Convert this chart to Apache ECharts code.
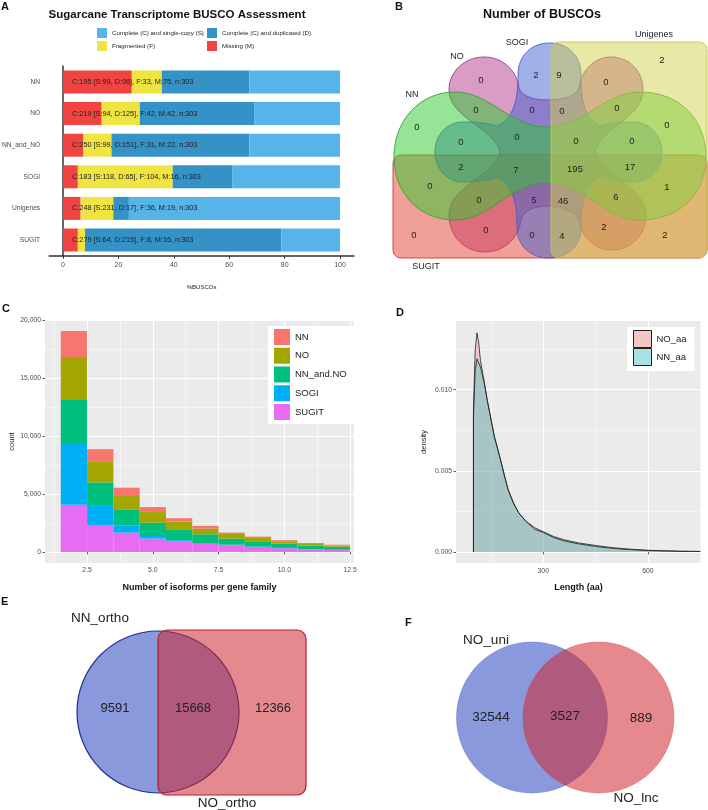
<!DOCTYPE html>
<html>
<head>
<meta charset="utf-8">
<script src="https://cdn.jsdelivr.net/npm/echarts@6.0.0/dist/echarts.min.js"></script>
<style>
  html, body { margin: 0; padding: 0; background: #fff; }
  #main { width: 708px; height: 810px; }
</style>
</head>
<body>
<div id="main"></div>
<script>
// ---------- data ----------
// A: BUSCO assessment, counts out of buscoTotal
const buscoCats = ['NN', 'NO', 'NN_and_NO', 'SOGI', 'Unigenes', 'SUGIT'];
const buscoSingle = [99, 94, 99, 118, 231, 64];
const buscoDup = [96, 125, 151, 65, 17, 215];
const buscoFrag = [33, 42, 31, 104, 36, 8];
const buscoMiss = [75, 42, 22, 16, 19, 16];
const buscoTotal = 303;
const buscoTicks = [0, 20, 40, 60, 80, 100];

// B: five-set Venn, one count per region
const vennBSets = ['NN', 'NO', 'SOGI', 'Unigenes', 'SUGIT'];
const vennBCounts = [2, 9, 2, 0, 0, 0, 0, 0, 0, 0, 0, 0, 0, 0, 0,
  2, 7, 195, 17, 0, 1, 0, 5, 46, 6, 0, 0, 0, 4, 2, 2];

// C: isoforms per gene family (stacked counts, bottom to top)
const isoBins = [2, 3, 4, 5, 6, 7, 8, 9, 10, 11, 12];
const isoSUGIT = [4080, 2330, 1670, 1155, 900, 690, 575, 430, 320, 230, 170];
const isoSOGI = [5320, 1720, 630, 225, 110, 60, 55, 35, 30, 25, 20];
const isoNNNO = [3730, 1960, 1380, 1150, 950, 775, 520, 460, 370, 290, 260];
const isoNO = [3710, 1770, 1150, 915, 660, 490, 400, 285, 205, 145, 115];
const isoNN = [2240, 1100, 720, 430, 290, 230, 120, 115, 90, 85, 60];
const isoTicks = [2.5, 5, 7.5, 10, 12.5];
const isoMinorTicks = [1.25, 3.75, 6.25, 8.75, 11.25];
const countTicks = [0, 5000, 10000, 15000, 20000];
const countMinorTicks = [2500, 7500, 12500, 17500];

// D: length density
const aaLength = [100, 100, 105, 110, 115, 120, 130, 140, 150, 160, 175, 190, 200, 215,
  230, 250, 275, 300, 330, 360, 400, 450, 500, 550, 600, 650, 700, 750];
const densNO = [0, 0.0088, 0.0124, 0.0135, 0.0129, 0.0118, 0.0106, 0.0093, 0.0082, 0.0071,
  0.0059, 0.0046, 0.0038, 0.0030, 0.0024, 0.0019, 0.0014, 0.0012, 0.00088, 0.00068,
  0.0005, 0.00034, 0.00022, 0.00014, 0.00009, 0.00006, 0.00004, 0.00003];
const densNN = [0, 0.0083, 0.0112, 0.0119, 0.0118, 0.0114, 0.0105, 0.0093, 0.0082, 0.0071,
  0.0059, 0.0046, 0.0038, 0.0030, 0.0024, 0.0019, 0.0015, 0.00125, 0.00095, 0.00075,
  0.00056, 0.0004, 0.00026, 0.00017, 0.0001, 0.00007, 0.00004, 0.00003];
const aaTicks = [300, 600];
const aaMinorTicks = [150, 450, 750];
const densTicks = [0, 0.005, 0.01];
const densMinorTicks = [0.0025, 0.0075, 0.0125];

// E, F: two-set Venns  [left only, both, right only]
const orthoSets = ['NN_ortho', 'NO_ortho'];
const orthoCounts = [9591, 15668, 12366];
const lncSets = ['NO_uni', 'NO_lnc'];
const lncCounts = [32544, 3527, 889];

// ---------- layout of the Venn panels (page units) ----------
const vennBCountPos = [[536, 75], [559, 75], [662, 60], [481, 80], [606, 82], [476, 110], [532, 110],
  [562, 111], [617, 108], [417, 127], [667, 125], [461, 142], [517, 137], [576, 141], [632, 141],
  [461, 167], [516, 170], [575, 169], [630, 167], [430, 186], [667, 187], [479, 200], [534, 200],
  [563, 201], [616, 197], [414, 235], [486, 230], [532, 235], [562, 236], [604, 227], [665, 235]];
const vennBSetPos = [[412, 95], [457, 57], [517, 43], [654, 35], [426, 267]];
const orthoCountPos = [[115, 708], [193, 708], [273, 708]];
const orthoSetPos = [[100, 618], [227, 803]];
const lncCountPos = [[491, 717], [565, 716], [641, 718]];
const lncSetPos = [[486, 640], [636, 798]];

// drawn in this order: NO, SUGIT, SOGI, NN, Unigenes
const vennShapes = [
  { kind: 'path', fill: 'rgba(177,57,141,0.5)', stroke: '#9c3a88',
    d: 'M449,90 C449,71 465,57 484,57 C503,57 517,71 519,88 C522,97 535,100 547,100 C559,100 576,97 579,88 C581,71 594,57 611,57 C629,57 643,71 643,90 C643,118 600,128 595,152 C600,176 646,186 646,215 C646,235 631,250 612,250 C594,250 581,236 579,220 C576,211 559,206 547,206 C535,206 522,211 521,220 C519,237 505,252 485,252 C465,252 449,236 449,215 C449,186 495,176 500,152 C495,128 449,118 449,90 Z' },
  { kind: 'rect', x: 393, y: 155, w: 314, h: 103, r: 8, fill: 'rgba(225,65,50,0.5)', stroke: '#d03a32' },
  { kind: 'path', fill: 'rgba(65,97,209,0.5)', stroke: '#4a5fd0',
    d: 'M518,75 C518,55 532,43 549.5,43 C567,43 581,55 581,75 C581,100 584,118 600,126 C608,123 620,122 633,122 C650,122 662,136 662,152 C662,168 650,182 633,182 C620,182 608,180 600,177 C584,185 581,205 581,228 C581,246 567,258 549,258 C531,258 517,246 517,228 C517,205 514,185 497,177 C490,180 477,182 463,182 C446,182 435,168 435,152 C435,136 446,122 463,122 C477,122 490,123 497,126 C514,118 518,100 518,75 Z' },
  { kind: 'path', fill: 'rgba(46,204,46,0.5)', stroke: '#3a9e3a',
    d: 'M394,157 C394,120 420,92 455,92 C490,92 510,127 547,127 C584,127 604,92 640,92 C680,92 706,120 706,157 C706,194 680,220 640,220 C604,220 584,183 547,183 C510,183 490,220 455,220 C420,220 394,194 394,157 Z' },
  { kind: 'rect', x: 551, y: 42, w: 156, h: 216, r: 8, fill: 'rgba(209,209,80,0.5)', stroke: '#c4c45c' },
  { kind: 'circle', cx: 158, cy: 712, r: 81, fill: 'rgba(40,70,190,0.55)', stroke: '#1f2f8f', lw: 1.2 },
  { kind: 'rect', x: 158, y: 630, w: 148, h: 165, r: 9, fill: 'rgba(210,40,50,0.55)', stroke: '#b21f2c', lw: 1.2 },
  { kind: 'circle', cx: 532, cy: 717.5, r: 75.5, fill: 'rgba(40,70,190,0.55)', stroke: 'rgba(40,70,190,0.35)' },
  { kind: 'circle', cx: 598.5, cy: 717.5, r: 75.5, fill: 'rgba(210,40,50,0.55)', stroke: 'rgba(210,40,50,0.35)' }
];

const vennTexts = [].concat(
  vennBCounts.map((v, i) => ({ text: String(v), pos: vennBCountPos[i], size: 9.5 })),
  vennBSets.map((s, i) => ({ text: s, pos: vennBSetPos[i], size: 9 })),
  orthoCounts.map((v, i) => ({ text: String(v), pos: orthoCountPos[i], size: 13 })),
  orthoSets.map((s, i) => ({ text: s, pos: orthoSetPos[i], size: 13.5 })),
  lncCounts.map((v, i) => ({ text: String(v), pos: lncCountPos[i], size: 13.5 })),
  lncSets.map((s, i) => ({ text: s, pos: lncSetPos[i], size: 13.5 }))
);

// ---------- chart ----------
const FONT = 'Liberation Sans, Arial, sans-serif';
const chart = echarts.init(document.getElementById('main'));

const buscoLabels = buscoCats.map((c, i) =>
  'C:' + (buscoSingle[i] + buscoDup[i]) + ' [S:' + buscoSingle[i] + ', D:' + buscoDup[i] +
  '], F:' + buscoFrag[i] + ', M:' + buscoMiss[i] + ', n:' + buscoTotal);
const pct = arr => arr.map(v => v / buscoTotal * 100);
const pairs = (xs, ys) => xs.map((x, i) => [x, ys[i]]);

// stacked histogram layers (bottom first)
const isoLayers = [
  { name: 'SUGIT', values: isoSUGIT, color: '#E76BF3' },
  { name: 'SOGI', values: isoSOGI, color: '#00B0F6' },
  { name: 'NN_and.NO', values: isoNNNO, color: '#00BF7D' },
  { name: 'NO', values: isoNO, color: '#A3A500' },
  { name: 'NN', values: isoNN, color: '#F8766D' }
];
const isoBase = isoBins.map(() => 0);
const isoSeries = isoLayers.map(layer => {
  const data = isoBins.map((x, i) => {
    const item = [x, layer.values[i], isoBase[i]];
    isoBase[i] += layer.values[i];
    return item;
  });
  return {
    type: 'custom', name: layer.name, xAxisIndex: 1, yAxisIndex: 1, silent: true,
    itemStyle: { color: layer.color }, encode: { x: 0, y: 1 },
    data: data,
    renderItem: (params, api) => {
      const x = api.value(0), v = api.value(1), b = api.value(2);
      const p0 = api.coord([x - 0.5, b]);
      const p1 = api.coord([x + 0.5, b + v]);
      return {
        type: 'rect',
        shape: { x: p0[0], y: p1[1], width: p1[0] - p0[0], height: p0[1] - p1[1] },
        style: { fill: layer.color }
      };
    }
  };
});

function mapPath(d, api) {
  return d.replace(/(-?\d+(?:\.\d+)?),(-?\d+(?:\.\d+)?)/g, (m, x, y) => {
    const p = api.coord([+x, +y]);
    return p[0].toFixed(2) + ',' + p[1].toFixed(2);
  });
}

function renderShape(params, api) {
  const s = vennShapes[api.value(0)];
  const style = { fill: s.fill, stroke: s.stroke, lineWidth: s.lw || 0.9 };
  if (s.kind === 'rect') {
    const p = api.coord([s.x, s.y]);
    const q = api.coord([s.x + s.w, s.y + s.h]);
    return { type: 'rect', shape: { x: p[0], y: p[1], width: q[0] - p[0], height: q[1] - p[1], r: s.r }, style };
  }
  if (s.kind === 'circle') {
    const c = api.coord([s.cx, s.cy]);
    const e = api.coord([s.cx + s.r, s.cy]);
    return { type: 'circle', shape: { cx: c[0], cy: c[1], r: e[0] - c[0] }, style };
  }
  return { type: 'path', shape: { pathData: mapPath(s.d, api) }, style };
}

function renderText(params, api) {
  const t = vennTexts[api.value(2)];
  const p = api.coord([api.value(0), api.value(1)]);
  return {
    type: 'text', x: p[0], y: p[1],
    style: {
      text: t.text, fill: '#222', fontSize: t.size, fontFamily: FONT,
      align: 'center', verticalAlign: 'middle', textAlign: 'center', textVerticalAlign: 'middle'
    }
  };
}

function headText(text, x, y, size, align) {
  return {
    type: 'text', x: x, y: y, silent: true,
    style: {
      text: text, fill: '#111', font: 'bold ' + size + 'px ' + FONT,
      align: align, verticalAlign: 'middle', textAlign: align, textVerticalAlign: 'middle'
    }
  };
}

const gg = { // ggplot-like axis pieces
  label: { fontSize: 6.8, color: '#4d4d4d' },
  tick: { lineStyle: { color: '#333', width: 0.8 } }
};

const option = {
  animation: false,
  textStyle: { fontFamily: FONT },
  graphic: [
    headText('A', 1, 7, 11, 'left'),
    headText('Sugarcane Transcriptome BUSCO Assessment', 177, 15, 11.5, 'center'),
    headText('B', 395, 7, 11, 'left'),
    headText('Number of BUSCOs', 542, 15, 12.5, 'center'),
    headText('C', 2, 309, 11, 'left'),
    headText('D', 396, 313, 11, 'left'),
    headText('E', 1, 602, 11, 'left'),
    headText('F', 405, 623, 11, 'left')
  ],
  legend: [
    { left: 97, top: 28, orient: 'vertical', padding: 0, itemGap: 3, itemWidth: 10, itemHeight: 10,
      icon: 'rect', selectedMode: false, textStyle: { fontSize: 6.2, color: '#222' },
      data: ['Complete (C) and single-copy (S)', 'Fragmented (F)'] },
    { left: 207, top: 28, orient: 'vertical', padding: 0, itemGap: 3, itemWidth: 10, itemHeight: 10,
      icon: 'rect', selectedMode: false, textStyle: { fontSize: 6.2, color: '#222' },
      data: ['Complete (C) and duplicated (D)', 'Missing (M)'] },
    { left: 268, top: 326, orient: 'vertical', backgroundColor: '#fff', padding: [3, 12, 4, 6],
      itemGap: 2.75, itemWidth: 16, itemHeight: 16, icon: 'rect', selectedMode: false,
      textStyle: { fontSize: 9.5, color: '#222' },
      data: ['NN', 'NO', 'NN_and.NO', 'SOGI', 'SUGIT'] },
    { left: 627, top: 327, orient: 'vertical', backgroundColor: '#fff', padding: [3, 8, 5, 6],
      itemGap: 0, itemWidth: 18, itemHeight: 17, icon: 'rect', selectedMode: false,
      textStyle: { fontSize: 9.5, color: '#222' },
      data: [
        { name: 'NO_aa', itemStyle: { color: '#f2c8c4', borderColor: '#222', borderWidth: 1 } },
        { name: 'NN_aa', itemStyle: { color: '#a8e2e4', borderColor: '#222', borderWidth: 1 } }
      ] }
  ],
  grid: [
    { left: 49.2, top: 66.2, width: 304.7, height: 189.6, outerBoundsMode: 'none', containLabel: false },
    { left: 45, top: 320, width: 309, height: 243, show: true, backgroundColor: '#ebebeb', borderWidth: 0,
      outerBoundsMode: 'none', containLabel: false },
    { left: 456, top: 321, width: 245, height: 242, show: true, backgroundColor: '#ebebeb', borderWidth: 0,
      outerBoundsMode: 'none', containLabel: false },
    { left: 0, top: 0, width: 708, height: 810, outerBoundsMode: 'none', containLabel: false }
  ],
  xAxis: [
    { gridIndex: 0, type: 'value', min: -5, max: 105,
      axisLine: { show: true, lineStyle: { color: '#333', width: 1.5 } },
      axisTick: { show: true, length: 3, customValues: buscoTicks, lineStyle: { color: '#333' } },
      axisLabel: { customValues: buscoTicks, fontSize: 7, color: '#4d4d4d', margin: 6 },
      splitLine: { show: false },
      name: '%BUSCOs', nameLocation: 'middle', nameGap: 29, nameTextStyle: { fontSize: 6, color: '#222' } },
    { gridIndex: 1, type: 'value', min: 0.9, max: 12.65,
      axisLine: { show: false },
      axisTick: { show: true, length: 2.5, customValues: isoTicks, lineStyle: gg.tick.lineStyle },
      axisLabel: Object.assign({ customValues: isoTicks, formatter: v => v.toFixed(1), margin: 4 }, gg.label),
      splitLine: { show: true, lineStyle: { color: '#fff', width: 1 } },
      name: 'Number of isoforms per gene family', nameLocation: 'middle', nameGap: 20,
      nameTextStyle: { fontSize: 9, fontWeight: 'bold', color: '#111' } },
    { gridIndex: 1, type: 'value', min: 0.9, max: 12.65,
      axisLine: { show: false }, axisTick: { show: false, customValues: isoMinorTicks },
      axisLabel: { show: false }, splitLine: { show: true, lineStyle: { color: '#fff', width: 0.5 } } },
    { gridIndex: 2, type: 'value', min: 50, max: 752,
      axisLine: { show: false },
      axisTick: { show: true, length: 2.5, customValues: aaTicks, lineStyle: gg.tick.lineStyle },
      axisLabel: Object.assign({ customValues: aaTicks, margin: 5 }, gg.label),
      splitLine: { show: true, lineStyle: { color: '#fff', width: 1 } },
      name: 'Length (aa)', nameLocation: 'middle', nameGap: 20,
      nameTextStyle: { fontSize: 9, fontWeight: 'bold', color: '#111' } },
    { gridIndex: 2, type: 'value', min: 50, max: 752,
      axisLine: { show: false }, axisTick: { show: false, customValues: aaMinorTicks },
      axisLabel: { show: false }, splitLine: { show: true, lineStyle: { color: '#fff', width: 0.5 } } },
    { gridIndex: 3, type: 'value', min: 0, max: 708, show: false }
  ],
  yAxis: [
    { gridIndex: 0, type: 'category', inverse: true, data: buscoCats,
      axisLine: { show: true, lineStyle: { color: '#333', width: 1.5 } },
      axisTick: { show: false },
      axisLabel: { fontSize: 6.7, color: '#4d4d4d', margin: 9 } },
    { gridIndex: 1, type: 'value', min: -954, max: 20034,
      axisLine: { show: false },
      axisTick: { show: true, length: 2.5, customValues: countTicks, lineStyle: gg.tick.lineStyle },
      axisLabel: Object.assign({ customValues: countTicks, margin: 4 }, gg.label),
      splitLine: { show: true, lineStyle: { color: '#fff', width: 1 } },
      name: 'count', nameLocation: 'middle', nameGap: 27, nameRotate: 90,
      nameTextStyle: { fontSize: 7.5, color: '#222' } },
    { gridIndex: 1, type: 'value', min: -954, max: 20034,
      axisLine: { show: false }, axisTick: { show: false, customValues: countMinorTicks },
      axisLabel: { show: false }, splitLine: { show: true, lineStyle: { color: '#fff', width: 0.5 } } },
    { gridIndex: 2, type: 'value', min: -0.00068, max: 0.01423,
      axisLine: { show: false },
      axisTick: { show: true, length: 2.5, customValues: densTicks, lineStyle: gg.tick.lineStyle },
      axisLabel: Object.assign({ customValues: densTicks, formatter: v => v.toFixed(3), margin: 4 }, gg.label),
      splitLine: { show: true, lineStyle: { color: '#fff', width: 1 } },
      name: 'density', nameLocation: 'middle', nameGap: 28, nameRotate: 90,
      nameTextStyle: { fontSize: 7.5, color: '#222' } },
    { gridIndex: 2, type: 'value', min: -0.00068, max: 0.01423,
      axisLine: { show: false }, axisTick: { show: false, customValues: densMinorTicks },
      axisLabel: { show: false }, splitLine: { show: true, lineStyle: { color: '#fff', width: 0.5 } } },
    { gridIndex: 3, type: 'value', min: 0, max: 810, inverse: true, show: false }
  ],
  series: [
    // A
    { type: 'bar', name: 'Missing (M)', stack: 'busco', xAxisIndex: 0, yAxisIndex: 0, barWidth: 23, z: 3,
      data: pct(buscoMiss), itemStyle: { color: '#F04442' },
      label: { show: true, position: 'insideLeft', distance: 9, formatter: p => buscoLabels[p.dataIndex],
        color: '#222', fontSize: 7.3, textBorderWidth: 0 } },
    { type: 'bar', name: 'Fragmented (F)', stack: 'busco', xAxisIndex: 0, yAxisIndex: 0, barWidth: 23,
      data: pct(buscoFrag), itemStyle: { color: '#F0E442' } },
    { type: 'bar', name: 'Complete (C) and duplicated (D)', stack: 'busco', xAxisIndex: 0, yAxisIndex: 0, barWidth: 23,
      data: pct(buscoDup), itemStyle: { color: '#3492C7' } },
    { type: 'bar', name: 'Complete (C) and single-copy (S)', stack: 'busco', xAxisIndex: 0, yAxisIndex: 0, barWidth: 23,
      data: pct(buscoSingle), itemStyle: { color: '#56B4E9' } }
  ].concat(isoSeries, [
    // D
    { type: 'line', name: 'NO_aa', xAxisIndex: 3, yAxisIndex: 3, symbol: 'none',
      data: pairs(aaLength, densNO), lineStyle: { color: '#222', width: 0.8 },
      itemStyle: { color: '#f2c8c4' }, areaStyle: { color: 'rgba(248,118,109,0.3)', opacity: 1 } },
    { type: 'line', name: 'NN_aa', xAxisIndex: 3, yAxisIndex: 3, symbol: 'none',
      data: pairs(aaLength, densNN), lineStyle: { color: '#222', width: 0.8 },
      itemStyle: { color: '#a8e2e4' }, areaStyle: { color: 'rgba(0,191,196,0.3)', opacity: 1 } },
    // B, E, F Venn shapes and counts
    { type: 'custom', name: 'vennShapes', xAxisIndex: 5, yAxisIndex: 5, silent: true, z: 1,
      data: vennShapes.map((s, i) => [i]), renderItem: renderShape },
    { type: 'custom', name: 'vennTexts', xAxisIndex: 5, yAxisIndex: 5, silent: true, z: 4,
      data: vennTexts.map((t, i) => [t.pos[0], t.pos[1], i]), renderItem: renderText }
  ])
};

chart.setOption(option);
</script>
</body>
</html>
